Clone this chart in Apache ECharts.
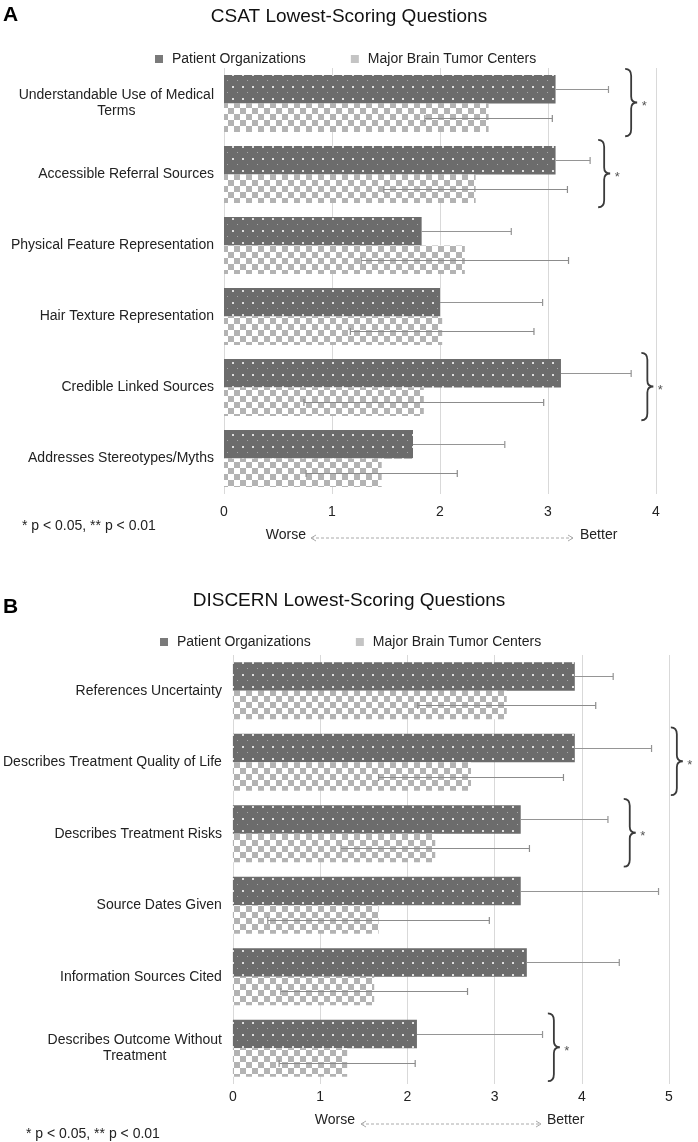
<!DOCTYPE html>
<html><head><meta charset="utf-8">
<script src="https://cdn.jsdelivr.net/npm/echarts@6/dist/echarts.min.js"></script>
<style>html,body{margin:0;padding:0;background:#fff}#c{width:698px;height:1142px}</style>
</head><body><div id="c"></div>
<script>
// ---------- data ----------
const seriesNames = ['Patient Organizations', 'Major Brain Tumor Centers'];

const csatCategories = ['Understandable Use of Medical\nTerms', 'Accessible Referral Sources', 'Physical Feature Representation', 'Hair Texture Representation', 'Credible Linked Sources', 'Addresses Stereotypes/Myths'];
const csatPO = [3.07, 3.07, 1.83, 2.00, 3.12, 1.75];
const csatPOsd = [0.49, 0.32, 0.83, 0.95, 0.65, 0.85];
const csatMB = [2.45, 2.33, 2.23, 2.02, 1.85, 1.46];
const csatMBsd = [0.59, 0.85, 0.96, 0.85, 1.11, 0.70];
const csatSig = [[3.77, 0], [3.52, 1], [3.92, 4]];   // [x value, category index]
const csatTicks = ['0', '1', '2', '3', '4'];

const discernCategories = ['References Uncertainty', 'Describes Treatment Quality of Life', 'Describes Treatment Risks', 'Source Dates Given', 'Information Sources Cited', 'Describes Outcome Without\nTreatment'];
const discernPO = [3.92, 3.92, 3.30, 3.30, 3.37, 2.11];
const discernPOsd = [0.44, 0.88, 1.00, 1.58, 1.06, 1.44];
const discernMB = [3.14, 2.73, 2.32, 1.67, 1.62, 1.31];
const discernMBsd = [1.02, 1.06, 1.08, 1.27, 1.07, 0.78];
const discernSig = [[5.09, 1], [4.55, 2], [3.68, 5]];
const discernTicks = ['0', '1', '2', '3', '4', '5'];

// ---------- styles ----------
const FONT = "'Liberation Sans', Arial, Helvetica, sans-serif";
const TXT = '#222';
const FS = 14;

function dotPattern() {
  const c = document.createElement('canvas'); c.width = 10; c.height = 12;
  const g = c.getContext('2d');
  g.fillStyle = '#6c6c6c'; g.fillRect(0, 0, 10, 12);
  g.fillStyle = '#e0e0e0'; g.fillRect(2, 2, 2, 2);
  g.fillStyle = '#a8a8a8'; g.fillRect(7, 8, 1, 1);
  return c;
}
function checkPattern() {
  const c = document.createElement('canvas'); c.width = 12; c.height = 12;
  const g = c.getContext('2d');
  g.fillStyle = '#ffffff'; g.fillRect(0, 0, 12, 12);
  g.fillStyle = '#b3b3b3'; g.fillRect(0, 0, 6, 6); g.fillRect(6, 6, 6, 6);
  return c;
}
const poColor = { image: dotPattern(), repeat: 'repeat' };
const mbColor = { image: checkPattern(), repeat: 'repeat' };

function errData(po, posd, mb, mbsd) {
  const d = [];
  po.forEach((v, i) => d.push([i, v, posd[i], 0]));
  mb.forEach((v, i) => d.push([i, v, mbsd[i], 1]));
  return d;
}
function errRender(params, api) {
  const i = api.value(0), m = api.value(1), sd = api.value(2), w = api.value(3);
  const band = api.size([0, 1])[1];
  const c = api.coord([m, i]);
  const yc = Math.round(c[1] + (w === 0 ? -1 : 1) * band * 0.2) + 0.5;
  const x2 = api.coord([m + sd, i])[0];
  const x1 = w === 0 ? c[0] : api.coord([m - sd, i])[0];
  const col = w === 0 ? '#959595' : '#8c8c8c';
  const st = { stroke: col, lineWidth: 1.2 };
  const ch = [
    { type: 'line', shape: { x1: x1, y1: yc, x2: x2, y2: yc }, style: st },
    { type: 'line', shape: { x1: x2, y1: yc - 3.5, x2: x2, y2: yc + 3.5 }, style: st }
  ];
  if (w === 1) ch.push({ type: 'line', shape: { x1: x1, y1: yc - 3.5, x2: x1, y2: yc + 3.5 }, style: st });
  return { type: 'group', children: ch };
}
function braceRender(params, api) {
  const p = api.coord([api.value(0), api.value(1)]);
  const band = api.size([0, 1])[1];
  const h = band * 0.95;
  const px = p[0], y0 = p[1] - h / 2 - 1, y1 = p[1] + h / 2 - 1, ym = (y0 + y1) / 2;
  const path = `M${px - 6} ${y0} Q${px} ${y0} ${px} ${y0 + 7} L${px} ${ym - 6} Q${px} ${ym} ${px + 6} ${ym} Q${px} ${ym} ${px} ${ym + 6} L${px} ${y1 - 7} Q${px} ${y1} ${px - 6} ${y1}`;
  return { type: 'group', children: [
    { type: 'path', shape: { pathData: path }, style: { fill: 'none', stroke: '#3a3a3a', lineWidth: 1.8 } },
    { type: 'text', style: { text: '*', x: px + 13, y: ym + 4, fill: '#555', fontSize: 13, fontFamily: FONT, align: 'center', verticalAlign: 'middle' } }
  ] };
}
const catLabel = (margin) => ({
  margin: margin, fontSize: FS, color: TXT, fontFamily: FONT,
  formatter: v => v.split('\n').map(s => '{c|' + s + '}').join('\n'),
  rich: { c: { align: 'center', fontSize: FS, color: TXT, fontFamily: FONT, lineHeight: 16 } }
});
const valAxis = (gi, max, ticks, margin) => ({
  type: 'value', gridIndex: gi, min: 0, max: max, interval: 1,
  axisLine: { show: false }, axisTick: { show: false },
  splitLine: { lineStyle: { color: '#d9d9d9', width: 1 } },
  axisLabel: { margin: margin, fontSize: FS, color: TXT, fontFamily: FONT, formatter: v => ticks[v] }
});
const legendDef = (left, top) => ({
  left: left, top: top, padding: 0, itemWidth: 8, itemHeight: 8, itemGap: 45, icon: 'rect',
  selectedMode: false,
  textStyle: { fontSize: FS, color: TXT, fontFamily: FONT, padding: [0, 0, 0, 4] },
  data: [
    { name: seriesNames[0], itemStyle: { color: '#7a7a7a' } },
    { name: seriesNames[1], itemStyle: { color: '#c4c4c4' } }
  ]
});
function arrow(x1, x2, y) {
  const st = { stroke: '#aaaaaa', lineWidth: 1 };
  return [
    { type: 'line', shape: { x1: x1, y1: y, x2: x2, y2: y }, style: { stroke: '#aaaaaa', lineWidth: 1, lineDash: [3, 2] } },
    { type: 'polyline', shape: { points: [[x1 + 5, y - 3], [x1, y], [x1 + 5, y + 3]] }, style: Object.assign({ fill: 'none' }, st) },
    { type: 'polyline', shape: { points: [[x2 - 5, y - 3], [x2, y], [x2 - 5, y + 3]] }, style: Object.assign({ fill: 'none' }, st) }
  ];
}
const txt = (x, y, text, opts) => ({ type: 'text', x: x, y: y, style: Object.assign({ text: text, fontSize: FS, fill: TXT, fontFamily: FONT, verticalAlign: 'middle', align: 'left' }, opts || {}) });

const chart = echarts.init(document.getElementById('c'), null, { renderer: 'canvas' });
chart.setOption({
  animation: false,
  backgroundColor: '#fff',
  title: [
    { text: 'CSAT Lowest-Scoring Questions', left: 'center', top: 7, padding: 0, textStyle: { fontSize: 19, fontWeight: 'normal', color: '#111', fontFamily: FONT } },
    { text: 'DISCERN Lowest-Scoring Questions', left: 'center', top: 591, padding: 0, textStyle: { fontSize: 19, fontWeight: 'normal', color: '#111', fontFamily: FONT } }
  ],
  legend: [legendDef(155, 52), legendDef(160, 635)],
  grid: [
    { left: 224, right: 42, top: 68, height: 426 },
    { left: 231, right: 29, top: 655, height: 429 }
  ],
  xAxis: [valAxis(0, 4, csatTicks, 11), valAxis(1, 5, discernTicks, 6)],
  yAxis: [
    { type: 'category', gridIndex: 0, data: csatCategories, inverse: true, axisLine: { show: false }, axisTick: { show: false }, axisLabel: catLabel(10) },
    { type: 'category', gridIndex: 1, data: discernCategories, inverse: true, axisLine: { show: false }, axisTick: { show: false }, axisLabel: catLabel(11) }
  ],
  series: [
    { type: 'bar', name: seriesNames[0], xAxisIndex: 0, yAxisIndex: 0, data: csatPO, barGap: '0%', barCategoryGap: '20%', itemStyle: { color: poColor }, silent: true },
    { type: 'bar', name: seriesNames[1], xAxisIndex: 0, yAxisIndex: 0, data: csatMB, barGap: '0%', barCategoryGap: '20%', itemStyle: { color: mbColor }, silent: true },
    { type: 'bar', name: seriesNames[0], xAxisIndex: 1, yAxisIndex: 1, data: discernPO, barGap: '0%', barCategoryGap: '20%', itemStyle: { color: poColor }, silent: true },
    { type: 'bar', name: seriesNames[1], xAxisIndex: 1, yAxisIndex: 1, data: discernMB, barGap: '0%', barCategoryGap: '20%', itemStyle: { color: mbColor }, silent: true },
    { type: 'custom', xAxisIndex: 0, yAxisIndex: 0, data: errData(csatPO, csatPOsd, csatMB, csatMBsd), encode: { x: 1, y: 0 }, renderItem: errRender, z: 5, silent: true, clip: false },
    { type: 'custom', xAxisIndex: 1, yAxisIndex: 1, data: errData(discernPO, discernPOsd, discernMB, discernMBsd), encode: { x: 1, y: 0 }, renderItem: errRender, z: 5, silent: true, clip: false },
    { type: 'custom', xAxisIndex: 0, yAxisIndex: 0, data: csatSig, encode: { x: 0, y: 1 }, renderItem: braceRender, z: 5, silent: true, clip: false },
    { type: 'custom', xAxisIndex: 1, yAxisIndex: 1, data: discernSig, encode: { x: 0, y: 1 }, renderItem: braceRender, z: 5, silent: true, clip: false }
  ],
  graphic: [
    txt(3, 15, 'A', { fontSize: 21, fontWeight: 'bold', fill: '#000' }),
    txt(3, 607, 'B', { fontSize: 21, fontWeight: 'bold', fill: '#000' }),
    txt(22, 526, '* p < 0.05, ** p < 0.01'),
    txt(26, 1134, '* p < 0.05, ** p < 0.01'),
    txt(306, 535, 'Worse', { align: 'right' }),
    txt(580, 535, 'Better'),
    txt(355, 1120, 'Worse', { align: 'right' }),
    txt(547, 1120, 'Better')
  ].concat(arrow(311, 573, 538), arrow(361, 541, 1124))
});
</script></body></html>
